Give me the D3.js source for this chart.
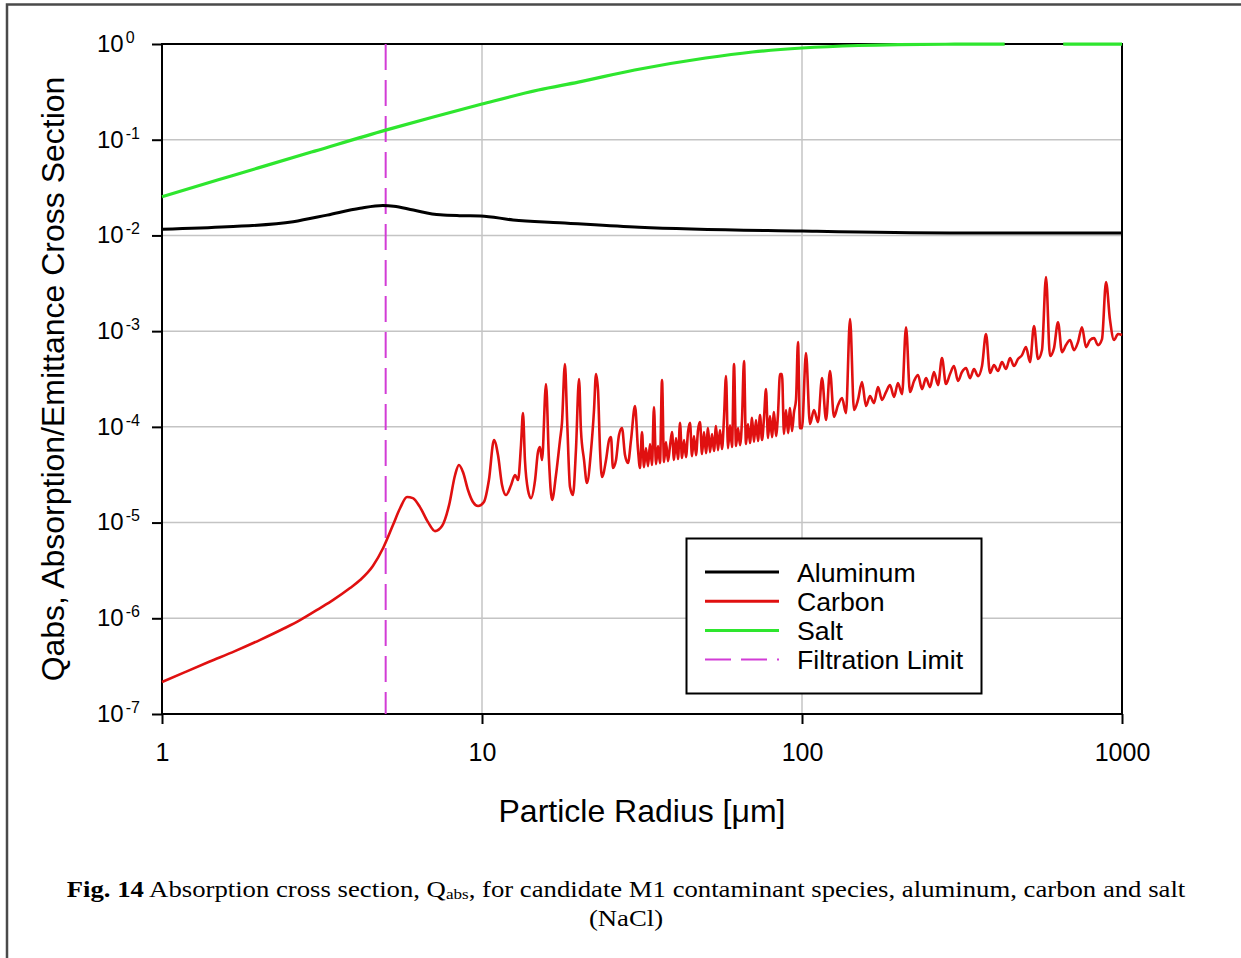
<!DOCTYPE html>
<html>
<head>
<meta charset="utf-8">
<script src="https://cdn.jsdelivr.net/npm/d3@7"></script>
<style>
  body { margin: 0; background: #fff; }
  svg text { font-family: "Liberation Sans", Arial, sans-serif; fill: #000; }
</style>
</head>
<body>
<svg id="chart" width="1241" height="958"></svg>
<script>
// ---- data ----
var xTicks = [1, 10, 100, 1000];
var yTicks = [1e0, 1e-1, 1e-2, 1e-3, 1e-4, 1e-5, 1e-6, 1e-7];
var yExp   = ["0", "-1", "-2", "-3", "-4", "-5", "-6", "-7"];

var seriesNames = ["Aluminum", "Carbon", "Salt", "Filtration Limit"];
var filtrationR = 5;

var aluminumR = [1, 1.6, 2.57, 3.28, 4.16, 4.9, 5.3, 6.1, 7.4, 8.5, 9.9, 12.5, 17.5, 31, 100, 290, 1000];
var aluminumQ = [0.0116, 0.0123, 0.0139, 0.0163, 0.0192, 0.0205, 0.0202, 0.0184, 0.0164, 0.0161, 0.0160, 0.0145, 0.0136, 0.0122, 0.0111, 0.0106, 0.0106];

var saltR = [1, 1.5, 2, 3, 5, 7, 10, 15, 20, 30, 50, 70, 100, 150, 200, 300, 430, 540, 655, 800, 1000];
var saltQ = [0.0254, 0.0381, 0.0508, 0.076, 0.126, 0.172, 0.236, 0.331, 0.40, 0.535, 0.714, 0.825, 0.908, 0.965, 0.985, 0.995, 0.998, null, 0.998, 0.998, 0.998];

// carbon: smooth rise, then resonance spikes
var carbonR = [
  1, 1.18, 1.41, 1.69, 2.02, 2.42, 2.70, 3.12, 3.42, 3.87,
  4.16, 4.56, 4.91, 5.27, 5.55, 5.83, 6.08, 6.40, 6.78, 7.13,
  7.50, 7.89, 8.24, 8.47, 8.72, 9.04, 9.37, 9.72, 10.14, 10.51,
  10.90, 11.22, 11.55, 11.89, 12.33, 12.68, 12.96, 13.24, 13.43, 13.62,
  13.92, 14.22, 14.65, 14.96, 15.18, 15.40, 15.85, 16.19, 16.55, 17.03,
  17.53, 17.78, 18.16, 18.45, 18.84, 19.24, 19.66, 20.10, 20.38, 20.84,
  21.28, 21.92, 22.39, 22.71, 23.04, 23.38, 23.71, 24.41, 24.95, 25.30,
  25.66, 26.23, 26.80, 27.38, 27.98, 28.59, 29.22, 30.07, 30.73,
  // dense band 31 - 99
  31.17, 31.62, 32.08, 32.54, 33.02, 33.50, 33.98, 34.47, 34.97, 35.48,
  35.99, 36.52, 37.05, 37.58, 38.13, 38.68, 39.24, 39.81, 40.39, 40.97,
  41.57, 42.17, 42.78, 43.40, 44.03, 44.67, 45.32, 45.97, 46.64, 47.32,
  48.00, 48.70, 49.40, 50.12, 50.85, 51.58, 52.33, 53.09, 53.86, 54.64,
  55.43, 56.23, 57.05, 57.88, 58.72, 59.57, 60.43, 61.31, 62.20, 63.10,
  64.01, 64.94, 65.88, 66.83, 67.80, 68.79, 69.79, 70.79, 71.82, 72.86,
  73.92, 74.99, 76.08, 77.18, 78.30, 79.43, 80.58, 81.75, 82.94, 84.14,
  85.36, 86.60, 87.85, 89.13, 90.42, 91.73, 93.06, 94.41, 95.78, 97.16,
  98.57,
  // 100 - 1000
  100, 102.9, 105.9, 109.0, 112.2, 115.5, 118.9, 122.3, 125.9, 129.6,
  133.4, 137.2, 141.3, 145.4, 149.6, 154.0, 158.5, 163.1, 167.9, 172.8,
  177.8, 183.0, 188.4, 193.9, 199.5, 205.4, 211.4, 217.5, 223.9, 230.4,
  237.1, 244.1, 251.2, 258.5, 266.1, 273.8, 281.8, 290.1, 298.5, 307.3,
  316.2, 325.5, 335.0, 344.8, 354.8, 365.2, 375.8, 386.8, 398.1, 409.7,
  421.7, 434.0, 446.7, 459.7, 473.2, 487.0, 501.2, 515.8, 530.9, 546.4,
  562.3, 578.8, 595.7, 613.1, 631.0, 649.4, 668.3, 687.9, 708.0, 728.6,
  749.9, 771.8, 794.3, 817.5, 841.4, 866.0, 891.3, 917.3, 944.1, 971.6,
  1000
];
var carbonQ = [
  2.16e-7, 2.74e-7, 3.53e-7, 4.54e-7, 5.92e-7, 7.91e-7, 9.57e-7, 1.28e-6, 1.55e-6, 2.07e-6,
  2.51e-6, 3.52e-6, 5.42e-6, 9.42e-6, 1.42e-5, 1.85e-5, 1.80e-5, 1.45e-5, 1.01e-5, 8.15e-6,
  9.20e-6, 1.52e-5, 3.14e-5, 3.99e-5, 3.37e-5, 2.19e-5, 1.64e-5, 1.49e-5, 1.64e-5, 2.78e-5,
  7.28e-5, 5.07e-5, 2.47e-5, 1.94e-5, 2.47e-5, 3.14e-5, 2.78e-5, 6.46e-5, 1.39e-4, 4.50e-5,
  2.19e-5, 1.80e-5, 2.78e-5, 5.46e-5, 6.15e-5, 4.50e-5, 2.80e-4, 4.50e-5, 1.72e-5, 3.14e-5,
  7.28e-5, 1.10e-4, 4.53e-4, 1.18e-4, 2.35e-5, 1.94e-5, 5.73e-5, 3.16e-4, 9.27e-5, 4.50e-5,
  2.59e-5, 5.73e-5, 1.50e-4, 3.56e-4, 2.43e-4, 5.73e-5, 2.99e-5, 4.50e-5, 7.28e-5, 7.83e-5,
  3.72e-5, 4.50e-5, 8.21e-5, 9.72e-5, 5.07e-5, 4.19e-5, 7.28e-5, 1.65e-4, 5.73e-5,
  // dense band 31 - 99
  3.71e-5, 8.82e-5, 3.80e-5, 6.00e-5, 3.89e-5, 6.61e-5, 3.99e-5, 1.61e-4, 4.08e-5, 6.30e-5,
  4.18e-5, 3.08e-4, 4.29e-5, 6.94e-5, 4.39e-5, 6.30e-5, 8.82e-5, 4.50e-5, 7.64e-5, 4.61e-5,
  1.10e-4, 4.72e-5, 7.28e-5, 4.83e-5, 8.82e-5, 1.10e-4, 4.95e-5, 8.01e-5, 5.07e-5, 9.26e-5,
  1.12e-4, 5.20e-5, 8.82e-5, 5.32e-5, 9.71e-5, 5.45e-5, 8.41e-5, 5.59e-5, 1.02e-4, 5.72e-5,
  9.26e-5, 5.86e-5, 1.24e-4, 3.39e-4, 6.00e-5, 1.04e-4, 6.15e-5, 4.53e-4, 6.30e-5, 9.71e-5,
  6.45e-5, 1.18e-4, 4.87e-4, 6.61e-5, 1.07e-4, 6.77e-5, 1.24e-4, 6.94e-5, 1.18e-4, 7.11e-5,
  1.33e-4, 7.28e-5, 1.24e-4, 2.48e-4, 7.64e-5, 1.30e-4, 7.82e-5, 1.43e-4, 8.01e-5, 1.36e-4,
  3.56e-4, 3.56e-4, 8.41e-5, 1.50e-4, 8.61e-5, 1.57e-4, 9.04e-5, 1.43e-4, 1.91e-4, 7.69e-4,
  9.71e-5,
  // 100 - 1000
  9.71e-5, 5.90e-4, 1.07e-4, 1.50e-4, 1.12e-4, 3.23e-4, 1.18e-4, 3.83e-4, 1.27e-4, 1.69e-4,
  2.00e-4, 1.39e-4, 1.34e-3, 1.50e-4, 1.91e-4, 2.94e-4, 1.65e-4, 2.10e-4, 1.77e-4, 2.60e-4,
  1.91e-4, 2.31e-4, 2.73e-4, 2.05e-4, 2.87e-4, 2.20e-4, 1.10e-3, 2.31e-4, 3.01e-4, 3.48e-4,
  2.48e-4, 3.23e-4, 2.60e-4, 3.74e-4, 2.73e-4, 5.23e-4, 2.80e-4, 3.56e-4, 4.32e-4, 3.01e-4,
  3.74e-4, 4.11e-4, 3.23e-4, 4.02e-4, 3.39e-4, 4.32e-4, 9.32e-4, 3.65e-4, 4.42e-4, 3.83e-4,
  4.75e-4, 4.02e-4, 5.23e-4, 4.32e-4, 5.11e-4, 5.62e-4, 6.82e-4, 4.75e-4, 1.13e-3, 5.11e-4,
  6.34e-4, 3.67e-3, 5.49e-4, 6.65e-4, 1.24e-3, 6.04e-4, 7.15e-4, 8.07e-4, 6.34e-4, 7.69e-4,
  1.10e-3, 6.82e-4, 8.07e-4, 8.46e-4, 7.15e-4, 8.26e-4, 3.26e-3, 1.31e-3, 8.07e-4, 9.32e-4,
  9.10e-4
];

var colors = { al: "#000000", carbon: "#e01010", salt: "#2ee62e", limit: "#d23cd6" };

// pair up r / Q arrays
function pairs(rs, qs) {
  var n = Math.min(rs.length, qs.length), out = [];
  for (var i = 0; i < n; i++) out.push({ r: rs[i], q: qs[i] });
  return out;
}

var svg = d3.select("#chart");

// outer page frame (only top + left visible in the crop)
svg.append("rect")
  .attr("x", 7).attr("y", 4.5)
  .attr("width", 1300).attr("height", 1000)
  .attr("fill", "none").attr("stroke", "#4a4a4a").attr("stroke-width", 2.5);

var x = d3.scaleLog().domain([1, 1000]).range([162, 1122]);
var y = d3.scaleLog().domain([1e-7, 1]).range([714, 44]);

// grid
var grid = svg.append("g").attr("stroke", "#c4c4c4").attr("stroke-width", 1.5);
grid.selectAll("line.gx")
  .data(xTicks.slice(1, -1))
  .enter().append("line")
  .attr("x1", function(d) { return x(d); }).attr("x2", function(d) { return x(d); })
  .attr("y1", y(1)).attr("y2", y(1e-7));
grid.selectAll("line.gy")
  .data(yTicks.slice(1, -1))
  .enter().append("line")
  .attr("y1", function(d) { return y(d); }).attr("y2", function(d) { return y(d); })
  .attr("x1", x(1)).attr("x2", x(1000));

// plot frame
svg.append("rect")
  .attr("x", x(1)).attr("y", y(1))
  .attr("width", x(1000) - x(1)).attr("height", y(1e-7) - y(1))
  .attr("fill", "none").attr("stroke", "#000").attr("stroke-width", 2);

// x axis
var gx = svg.append("g")
  .attr("transform", "translate(0," + y(1e-7) + ")")
  .call(d3.axisBottom(x).tickValues(xTicks).tickFormat(d3.format("d"))
        .tickSize(10).tickSizeOuter(0).tickPadding(19));
gx.select(".domain").remove();
gx.selectAll(".tick line").attr("stroke", "#000").attr("stroke-width", 2);
gx.selectAll(".tick text").attr("font-size", 25).attr("font-family", "Liberation Sans, Arial, sans-serif");

// y axis (labels are 10 with a superscript)
var gy = svg.append("g")
  .attr("transform", "translate(" + x(1) + ",0)")
  .call(d3.axisLeft(y).tickValues(yTicks).tickFormat("").tickSize(10).tickSizeOuter(0));
gy.select(".domain").remove();
gy.selectAll(".tick line").attr("stroke", "#000").attr("stroke-width", 2);

var ylab = svg.append("g").selectAll("text")
  .data(yTicks)
  .enter().append("text")
  .attr("x", 97)
  .attr("y", function(d) { return y(d); })
  .attr("dy", "0.33em")
  .attr("font-size", 24);
ylab.append("tspan").text("10");
ylab.append("tspan")
  .attr("dx", 2).attr("dy", -9).attr("font-size", 16)
  .text(function(d, i) { return yExp[i]; });

// filtration limit
svg.append("line")
  .attr("x1", x(filtrationR)).attr("x2", x(filtrationR))
  .attr("y1", y(1)).attr("y2", y(1e-7))
  .attr("stroke", colors.limit).attr("stroke-width", 2)
  .attr("stroke-dasharray", "26,10");

var line = d3.line()
  .defined(function(d) { return d.q != null; })
  .x(function(d) { return x(d.r); })
  .y(function(d) { return y(d.q); })
  .curve(d3.curveMonotoneX);

svg.append("path")
  .datum(pairs(aluminumR, aluminumQ))
  .attr("fill", "none").attr("stroke", colors.al).attr("stroke-width", 3)
  .attr("d", line);

svg.append("path")
  .datum(pairs(carbonR, carbonQ))
  .attr("fill", "none").attr("stroke", colors.carbon).attr("stroke-width", 2.6)
  .attr("stroke-linejoin", "round")
  .attr("d", line);

svg.append("path")
  .datum(pairs(saltR, saltQ))
  .attr("fill", "none").attr("stroke", colors.salt).attr("stroke-width", 3.2)
  .attr("d", line);

// axis titles
svg.append("text")
  .attr("x", 642).attr("y", 822)
  .attr("text-anchor", "middle").attr("font-size", 32)
  .text("Particle Radius [\u03bcm]");

svg.append("text")
  .attr("transform", "translate(64,379) rotate(-90)")
  .attr("text-anchor", "middle").attr("font-size", 32)
  .text("Qabs, Absorption/Emittance Cross Section");

// legend
var lg = svg.append("g");
lg.append("rect")
  .attr("x", 686.5).attr("y", 538.5).attr("width", 295).attr("height", 155)
  .attr("fill", "#fff").attr("stroke", "#000").attr("stroke-width", 2);
var legendColors = [colors.al, colors.carbon, colors.salt, colors.limit];
var row = lg.selectAll("g.row")
  .data(seriesNames)
  .enter().append("g")
  .attr("transform", function(d, i) { return "translate(0," + (572 + i * 29.2) + ")"; });
row.append("line")
  .attr("x1", 705).attr("x2", 779)
  .attr("stroke", function(d, i) { return legendColors[i]; })
  .attr("stroke-width", function(d, i) { return i == 3 ? 2 : 3; })
  .attr("stroke-dasharray", function(d, i) { return i == 3 ? "26,10" : null; });
row.append("text")
  .attr("x", 797).attr("dy", "0.36em").attr("font-size", 26.7)
  .text(function(d) { return d; });

// caption (the original face is wider than Liberation Serif, so stretch a bit)
var capFont = "Liberation Serif, Times New Roman, serif";
var cap = svg.append("text")
  .attr("transform", "translate(626,897) scale(1.137,1)")
  .attr("text-anchor", "middle").attr("font-size", 23.5)
  .style("font-family", capFont);
cap.append("tspan").attr("font-weight", "bold").text("Fig. 14");
cap.append("tspan").text(" Absorption cross section, Q");
cap.append("tspan").attr("font-size", 15).attr("dy", 2).text("abs");
cap.append("tspan").attr("dy", -2).text(", for candidate M1 contaminant species, aluminum, carbon and salt");

svg.append("text")
  .attr("transform", "translate(626,926) scale(1.137,1)")
  .attr("text-anchor", "middle").attr("font-size", 23.5)
  .style("font-family", capFont)
  .text("(NaCl)");
</script>
</body>
</html>
